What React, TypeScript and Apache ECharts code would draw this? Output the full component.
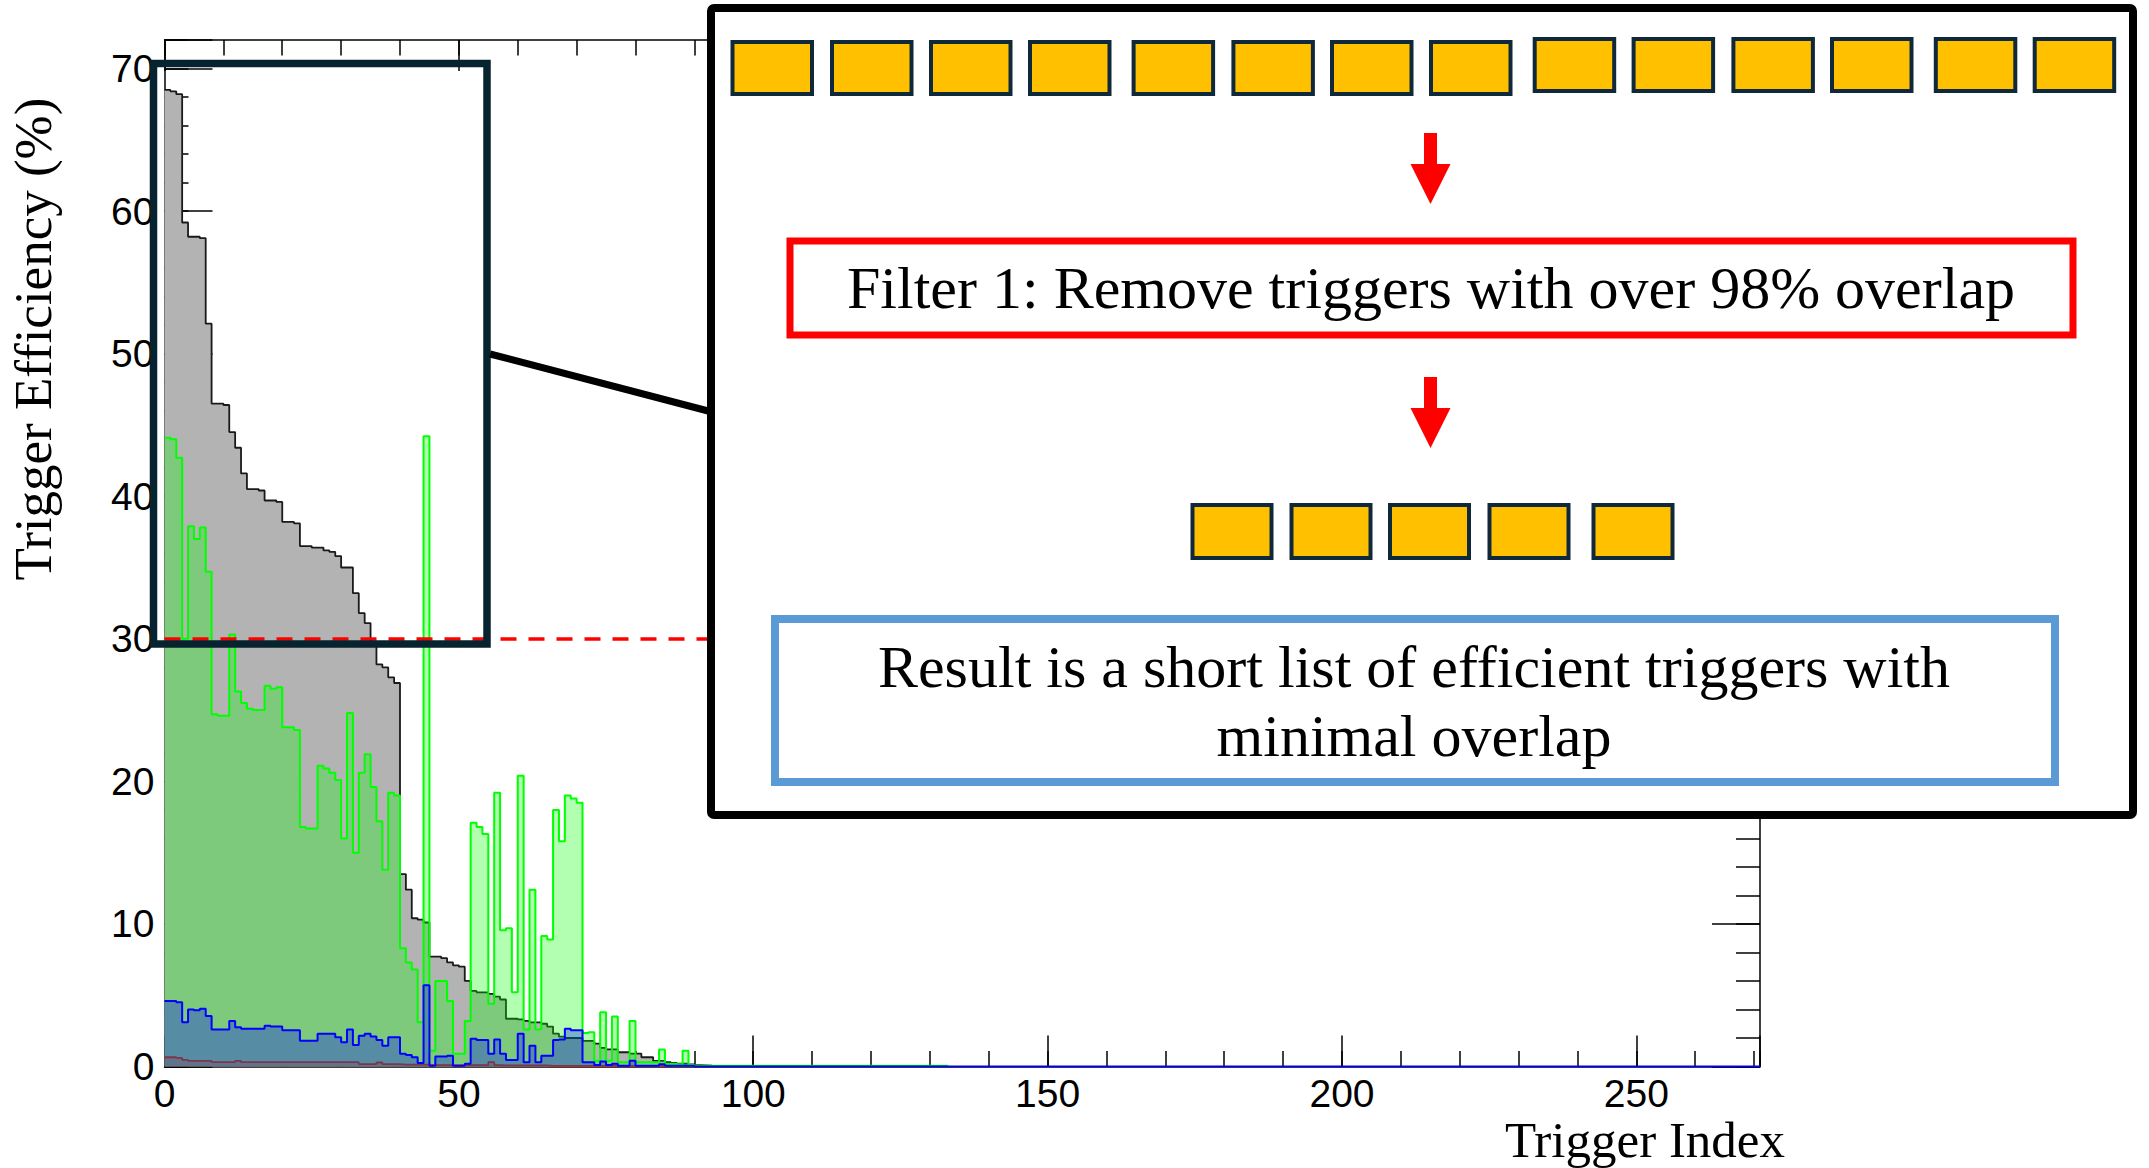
import React, { useEffect, useRef } from "react";
import * as echarts from "echarts";

// ---------- data ----------
const X_MAX = 271;
const Y_MAX = 72;
const xMajorStep = 50;
const yMajorStep = 10;
const threshold = 30;

const xTitle = "Trigger Index";
const yTitle = "Trigger Efficiency (%)";

// gray: total efficiency per trigger index (bins of width 1 starting at 0)
const totalEff = [
  68.5, 68.4, 68.2, 59.2, 58.2, 58.2, 58.1, 52.1, 46.5, 46.5,
  46.4, 44.5, 43.4, 41.6, 40.5, 40.5, 40.4, 39.7, 39.7, 39.6,
  38.2, 38.2, 38.1, 36.5, 36.5, 36.4, 36.4, 36.2, 36.1, 35.8,
  35.0, 35.0, 33.2, 31.8, 31.1, 29.8, 28.2, 28.0, 27.3, 26.9,
  13.5, 12.4, 10.4, 10.3, 10.1, 7.7, 7.7, 7.6, 7.3, 7.1,
  7.0, 6.0, 5.3, 5.2, 5.2, 5.1, 4.9, 4.7, 3.35, 3.35,
  3.3, 3.2, 3.1, 3.1, 3.0, 2.8, 2.3, 2.1, 2.0, 2.0,
  2.0, 1.8, 1.8, 1.6, 1.3, 1.2, 1.2, 1.0, 1.0, 0.9,
  0.9, 0.65, 0.65, 0.4, 0.4, 0.3, 0.25, 0.2, 0.2, 0.15,
  0.1, 0.08, 0.06, 0.05, 0.05, 0.04, 0.04, 0.03, 0.03, 0.03,
  0.03, 0.03, 0.02, 0.02, 0.02, 0.02, 0.02, 0.02, 0.02, 0.02,
  0.02, 0.02, 0.02, 0.02, 0.02, 0.02, 0.02, 0.02, 0.02, 0.02,
  0.02, 0.02, 0.02, 0.02, 0.02, 0.02, 0.02, 0.02, 0.02, 0.02,
  0.02, 0.02,
];

// green
const greenEff = [
  44.1, 44.0, 42.7, 30.0, 37.9, 37.0, 37.8, 34.7, 24.7, 24.6,
  24.6, 30.3, 26.3, 25.5, 25.1, 25.0, 25.0, 26.7, 26.5, 26.6,
  23.8, 23.8, 23.6, 16.8, 16.7, 16.7, 21.1, 20.9, 20.6, 20.1,
  16.0, 24.8, 15.0, 20.6, 21.9, 19.6, 17.2, 13.8, 19.2, 19.0,
  8.3, 7.3, 6.8, 3.1, 44.2, 1.1, 6.0, 6.0, 4.6, 0.9,
  0.9, 3.2, 17.1, 16.8, 16.3, 4.4, 19.2, 9.55, 9.7, 5.2,
  20.4, 2.6, 12.4, 2.6, 9.15, 8.9, 18.0, 15.8, 19.0, 18.8,
  18.5, 2.35, 2.4, 0.4, 3.8, 0.4, 3.5, 0.3, 0.3, 3.2,
  0.3, 0.3, 0.3, 0.3, 1.2, 0.2, 0.2, 0.15, 1.1, 0.1,
  0.05, 0.05, 0.05, 0.05, 0.05, 0.05, 0.05, 0.05, 0.05, 0.05,
  0.05, 0.05, 0.05, 0.05, 0.05, 0.05, 0.05, 0.05, 0.05, 0.05,
  0.05, 0.05, 0.05, 0.05, 0.05, 0.05, 0.05, 0.05, 0.05, 0.05,
  0.05, 0.05, 0.05, 0.05, 0.05, 0.05, 0.05, 0.05, 0.05, 0.05,
  0.05, 0.05, 0.05,
];

// blue
const blueEff = [
  4.6, 4.6, 4.5, 3.1, 4.0, 3.95, 4.05, 3.55, 2.6, 2.6,
  2.6, 3.2, 2.75, 2.65, 2.65, 2.65, 2.65, 2.85, 2.8, 2.8,
  2.55, 2.55, 2.55, 1.8, 1.8, 1.8, 2.3, 2.3, 2.3, 2.05,
  1.7, 2.6, 1.5, 2.15, 2.3, 2.1, 1.85, 1.45, 2.05, 2.05,
  0.9, 0.8, 0.65, 0.25, 5.7, 0.05, 0.7, 0.7, 0.75, 0.05,
  0.05, 0.2, 1.95, 1.85, 1.85, 0.9, 1.9, 0.9, 0.45, 0.45,
  2.3, 0.3, 1.45, 0.3, 0.75, 0.75, 1.85, 1.9, 2.65, 2.55,
  2.55, 0.3, 0.3, 0.1, 0.35, 0.1, 0.2, 0.05, 0.05, 0.4,
  0.05, 0.05, 0.05, 0.05, 0.15, 0.05, 0.05, 0.05, 0.05, 0.05,
  0,
];

// red
const redEff = [
  0.65, 0.65, 0.6, 0.46, 0.4, 0.4, 0.4, 0.4, 0.3, 0.3,
  0.3, 0.3, 0.4, 0.3, 0.3, 0.3, 0.3, 0.3, 0.3, 0.3,
  0.3, 0.3, 0.3, 0.3, 0.3, 0.3, 0.3, 0.3, 0.3, 0.3,
  0.3, 0.3, 0.3, 0.17, 0.17, 0.17, 0.28, 0.17, 0.17, 0.17,
  0.13, 0.13, 0.13, 0.13, 0.13, 0.1, 0.1, 0.1, 0.1, 0.1,
  0.1, 0.1, 0.1, 0.1, 0.1, 0.3, 0.1, 0.08, 0.08, 0.08,
  0.08, 0.08, 0.08, 0.08, 0.08, 0.05, 0.05, 0.05, 0.05, 0.05,
  0.05, 0.05, 0.05, 0.05, 0.05, 0.05, 0.05, 0.05, 0.05, 0.05,
  0.05, 0.05, 0.05, 0.05, 0.05, 0.05,
];

// infographic texts
const flowTitle = "Filter 1: Remove triggers with over 98% overlap";
const resultLine1 = "Result is a short list of efficient triggers with";
const resultLine2 = "minimal overlap";
const allTriggersCount = 14;
const keptTriggersCount = 5;

// ---------- helpers ----------
function toSteps(values: number[], end?: number) {
  const pts: number[][] = values.map((v, i) => [i, v]);
  pts.push([end ?? values.length, 0]);
  return pts;
}

const SANS = "'Liberation Sans', Arial, Helvetica, sans-serif";
const SERIF = "'Liberation Serif', 'Times New Roman', serif";
const AXIS = { color: "#000", width: 1.5 };

function xAxisDef(position: "top" | "bottom", step: number, len: number, labels: boolean, line: boolean) {
  return {
    type: "value",
    min: 0,
    max: X_MAX,
    interval: step,
    position,
    axisLine: { show: line, onZero: false, lineStyle: AXIS },
    axisTick: { show: true, inside: true, length: len, lineStyle: AXIS },
    axisLabel: labels
      ? {
          show: true,
          margin: 12,
          lineHeight: 30,
          color: "#000",
          fontFamily: SANS,
          fontSize: 39,
          formatter: (v: number) => (v % xMajorStep === 0 ? String(v) : ""),
        }
      : { show: false },
    splitLine: { show: false },
  };
}

function yAxisDef(position: "left" | "right", step: number, len: number, labels: boolean, line: boolean) {
  return {
    type: "value",
    min: 0,
    max: Y_MAX,
    interval: step,
    position,
    axisLine: { show: line, onZero: false, lineStyle: AXIS },
    axisTick: { show: true, inside: true, length: len, lineStyle: AXIS },
    axisLabel: labels
      ? {
          show: true,
          margin: 10,
          color: "#000",
          fontFamily: SANS,
          fontSize: 39,
          formatter: (v: number) => (v % yMajorStep === 0 && v <= 70 ? String(v) : ""),
        }
      : { show: false },
    splitLine: { show: false },
  };
}

function buildGraphics() {
  const els: any[] = [];
  const Z = 100;
  // navy highlight box
  els.push({
    type: "rect", z: Z,
    shape: { x: 153.5, y: 63.5, width: 333.5, height: 580.5 },
    style: { fill: "none", stroke: "#07232f", lineWidth: 7.5 },
  });
  // connector line
  els.push({
    type: "line", z: Z,
    shape: { x1: 490, y1: 354, x2: 712, y2: 412 },
    style: { stroke: "#000", lineWidth: 7 },
  });
  // big white box
  els.push({
    type: "rect", z: Z + 1,
    shape: { x: 711, y: 8, width: 1422, height: 807, r: 3 },
    style: { fill: "#fff", stroke: "#000", lineWidth: 8 },
  });
  // row of all triggers
  const rowLefts = [730.5, 830, 929, 1028, 1131.6, 1231.4, 1330, 1429, 1532.7, 1631.6, 1731.4, 1830, 1933.8, 2032.7];
  for (let i = 0; i < allTriggersCount; i++) {
    const top = i < 8 ? 40 : 37;
    els.push({
      type: "rect", z: Z + 2,
      shape: { x: rowLefts[i] + 2, y: top + 2, width: 79.5, height: 52 },
      style: { fill: "#ffc000", stroke: "#10293a", lineWidth: 4 },
    });
  }
  // kept triggers
  const keptLefts = [1190.5, 1289.5, 1388, 1487.5, 1591.5];
  for (let i = 0; i < keptTriggersCount; i++) {
    els.push({
      type: "rect", z: Z + 2,
      shape: { x: keptLefts[i] + 2, y: 505, width: 79, height: 53 },
      style: { fill: "#ffc000", stroke: "#10293a", lineWidth: 4 },
    });
  }
  // arrows
  const arrow = (y0: number) => ({
    type: "polygon", z: Z + 2,
    shape: {
      points: [
        [1424, y0], [1437, y0], [1437, y0 + 31], [1450.5, y0 + 31],
        [1430.5, y0 + 71], [1410.5, y0 + 31], [1424, y0 + 31],
      ],
    },
    style: { fill: "#ff0000" },
  });
  els.push(arrow(133));
  els.push(arrow(377));
  // red filter box
  els.push({
    type: "rect", z: Z + 2,
    shape: { x: 790, y: 241, width: 1283, height: 94 },
    style: { fill: "#fff", stroke: "#ff0000", lineWidth: 7 },
  });
  els.push({
    type: "text", z: Z + 3, x: 1431, y: 288,
    style: { text: flowTitle, fontFamily: SERIF, fontSize: 60, fill: "#000", align: "center", verticalAlign: "middle" },
  });
  // blue result box
  els.push({
    type: "rect", z: Z + 2,
    shape: { x: 775, y: 619, width: 1280, height: 163 },
    style: { fill: "#fff", stroke: "#5b9bd5", lineWidth: 8 },
  });
  els.push({
    type: "text", z: Z + 3, x: 1414, y: 667,
    style: { text: resultLine1, fontFamily: SERIF, fontSize: 60, fill: "#000", align: "center", verticalAlign: "middle" },
  });
  els.push({
    type: "text", z: Z + 3, x: 1414, y: 736,
    style: { text: resultLine2, fontFamily: SERIF, fontSize: 60, fill: "#000", align: "center", verticalAlign: "middle" },
  });
  // axis titles
  els.push({
    type: "text", z: Z, x: 33, y: 339, rotation: Math.PI / 2,
    style: { text: yTitle, fontFamily: SERIF, fontSize: 53, fill: "#000", align: "center", verticalAlign: "middle" },
  });
  els.push({
    type: "text", z: Z, x: 1645, y: 1140,
    style: { text: xTitle, fontFamily: SERIF, fontSize: 51, lineHeight: 42, fill: "#000", align: "center", verticalAlign: "middle" },
  });
  return els;
}

export default function App() {
  const ref = useRef<HTMLDivElement>(null);

  useEffect(() => {
    if (!ref.current) return;
    const chart = echarts.init(ref.current, null, { renderer: "svg" });

    const stepSeries = (name: string, values: number[], line: string, fill: string, width: number, z: number, end?: number, extra: any = {}) => ({
      name,
      type: "line",
      step: "end",
      xAxisIndex: 0,
      yAxisIndex: 0,
      z,
      data: toSteps(values, end),
      symbol: "none",
      lineStyle: { color: line, width },
      areaStyle: { color: fill, opacity: 1, origin: "start" },
      silent: true,
      ...extra,
    });

    chart.setOption({
      animation: false,
      backgroundColor: "#fff",
      grid: { left: 164.5, right: 389, top: 40, bottom: 101.5, containLabel: false },
      xAxis: [
        xAxisDef("bottom", xMajorStep, 31, true, true),
        xAxisDef("bottom", 10, 15.5, false, false),
        xAxisDef("top", xMajorStep, 31, false, true),
        xAxisDef("top", 10, 15.5, false, false),
      ],
      yAxis: [
        yAxisDef("left", yMajorStep, 48, true, true),
        yAxisDef("left", 2, 24, false, false),
        yAxisDef("right", yMajorStep, 48, false, true),
        yAxisDef("right", 2, 24, false, false),
      ],
      series: [
        stepSeries("Total", totalEff, "#1a1a1a", "#b3b3b3", 1.8, 1),
        stepSeries("Red", redEff, "#ff0000", "rgba(255,0,0,0.3)", 1.8, 1.5),
        stepSeries("Green", greenEff, "#00ff00", "rgba(0,255,0,0.3)", 2, 2),
        stepSeries("Blue", blueEff, "#0000ff", "rgba(0,0,255,0.3)", 2, 2, X_MAX, {
          markLine: {
            silent: true,
            symbol: "none",
            z: 5,
            label: { show: false },
            lineStyle: { color: "#ff0000", width: 3.5, type: [16, 12] },
            data: [{ yAxis: threshold }],
          },
        }),
      ],
      graphic: { elements: buildGraphics() },
    });

    return () => chart.dispose();
  }, []);

  return (
    <div
      ref={ref}
      style={{ position: "fixed", left: 0, top: 0, width: "2149px", height: "1168px", background: "#fff" }}
    />
  );
}
